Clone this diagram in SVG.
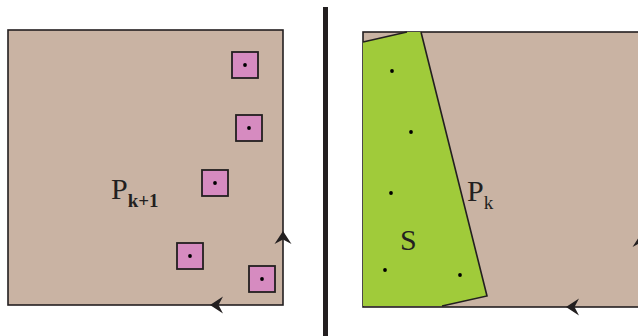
<svg xmlns="http://www.w3.org/2000/svg" width="638" height="336" viewBox="0 0 638 336">
<style>
.box{fill:#c9b3a3;stroke:#231f20;stroke-width:1.6}
.sq{fill:#d68bc0;stroke:#231f20;stroke-width:1.8}
.dot{fill:#000}
.edge{fill:none;stroke:#231f20;stroke-width:1.6}
.lbl{font-family:"Liberation Serif","DejaVu Serif",serif;fill:#231f20}
.arr{fill:#231f20}
</style>
<defs>
<path id="ahUp" d="M0,0 L8.5,13 L0,8.5 L-8.5,13 Z"/>
</defs>
<rect width="638" height="336" fill="#fff"/>
<g id="left-panel">
<rect class="box" x="8" y="30" width="275" height="275"/>
<g id="sq1"><rect class="sq" x="232" y="52" width="26" height="26"/><circle class="dot" cx="245" cy="65" r="1.9"/></g>
<g id="sq2"><rect class="sq" x="236" y="115" width="26" height="26"/><circle class="dot" cx="249" cy="128" r="1.9"/></g>
<g id="sq3"><rect class="sq" x="202" y="170" width="26" height="26"/><circle class="dot" cx="215" cy="183" r="1.9"/></g>
<g id="sq4"><rect class="sq" x="177" y="243" width="26" height="26"/><circle class="dot" cx="190" cy="256" r="1.9"/></g>
<g id="sq5"><rect class="sq" x="249" y="266" width="26" height="26"/><circle class="dot" cx="262" cy="279" r="1.9"/></g>
<text class="lbl" x="111" y="199" font-size="30">P<tspan font-size="19" font-weight="bold" dy="8">k+1</tspan></text>
</g>
<g id="divider"><rect x="323" y="7" width="5" height="329" fill="#231f20"/></g>
<g id="right-panel">
<rect class="box" x="363" y="32" width="280" height="275"/>
<polygon fill="#a0cb3a" points="363,42 407,32 421,32 487,296 442,306 363,306"/>
<g id="polygon-S-edges">
<polyline class="edge" points="363,42 407,32"/>
<polyline class="edge" points="421,32 487,296 442,306"/>
</g>
<circle class="dot" cx="392" cy="71" r="1.9"/>
<circle class="dot" cx="411" cy="132" r="1.9"/>
<circle class="dot" cx="391" cy="193" r="1.9"/>
<circle class="dot" cx="385" cy="270" r="1.9"/>
<circle class="dot" cx="460" cy="275" r="1.9"/>
<text class="lbl" x="400" y="250" font-size="30">S</text>
<text class="lbl" x="467" y="201" font-size="30">P<tspan font-size="19" dy="8">k</tspan></text>
</g>
<g id="connectors">
<use href="#ahUp" class="arr" transform="translate(283,231)"/>
<use href="#ahUp" class="arr" transform="translate(210,305) rotate(-90)"/>
<use href="#ahUp" class="arr" transform="translate(641,234)"/>
<use href="#ahUp" class="arr" transform="translate(566,307) rotate(-90)"/>
</g>
</svg>
